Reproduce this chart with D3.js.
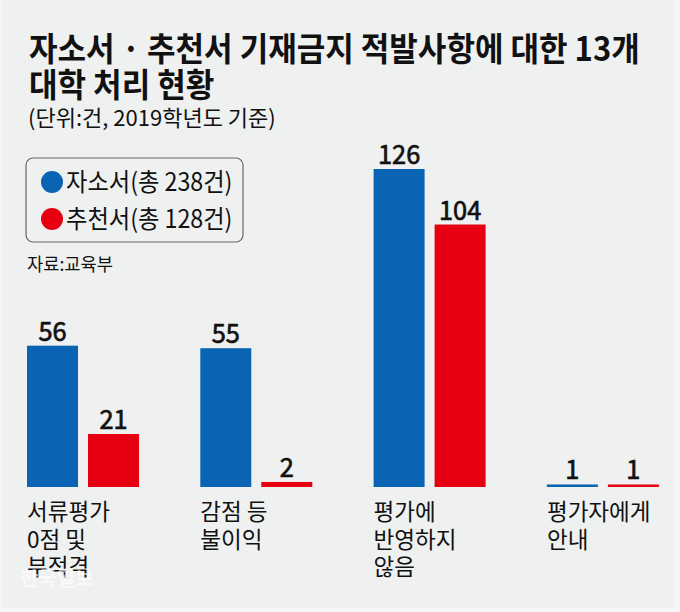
<!DOCTYPE html>
<html>
<head>
<meta charset="utf-8">
<script src="https://cdn.jsdelivr.net/npm/d3@7"></script>
<style>
  body { margin: 0; background: #f5f6f6; }
  svg text { font-family: "Noto Sans CJK KR", "Noto Sans", sans-serif; fill: #111; }
</style>
</head>
<body>
<div id="chart"></div>
<script>
// data
var categories = [
  ["서류평가", "0점 및", "부적격"],
  ["감점 등", "불이익"],
  ["평가에", "반영하지", "않음"],
  ["평가자에게", "안내"]
];
var seriesNames = ["자소서(총 238건)", "추천서(총 128건)"];
var selfIntro = [56, 55, 126, 1];      // 자소서
var recommend = [21, 2, 104, 1];       // 추천서
var colors = ["#0a64b4", "#e60012"];

var svgWidth = 680;
var svgHeight = 612;

var svg = d3.select("#chart")
  .append("svg")
  .attr("width", svgWidth)
  .attr("height", svgHeight);

// panel background
svg.append("rect")
  .attr("x", 2).attr("y", 0)
  .attr("width", 672).attr("height", 608)
  .attr("fill", "#eff0f0");

// condensed text helper (newspaper font is narrow)
function label(g, str, x, y, size, weight, sx, anchor) {
  return g.append("text")
    .attr("transform", `translate(${x},${y}) scale(${sx},1)`)
    .attr("text-anchor", anchor || "start")
    .style("font-size", size + "px")
    .style("font-weight", weight)
    .text(str);
}

// title
label(svg, "자소서 · 추천서 기재금지 적발사항에 대한 13개", 29, 61, 33, 700, 0.94);
label(svg, "대학 처리 현황", 29, 97, 33, 700, 0.94);
label(svg, "(단위:건, 2019학년도 기준)", 28, 126, 22, 400, 1.0);

// legend
var legend = svg.append("g");
legend.append("rect")
  .attr("x", 26).attr("y", 158)
  .attr("width", 217).attr("height", 84)
  .attr("rx", 7)
  .attr("fill", "none")
  .attr("stroke", "#666")
  .attr("stroke-width", 1.2);
seriesNames.forEach(function(name, i) {
  legend.append("circle")
    .attr("cx", 52).attr("cy", 182 + i * 37)
    .attr("r", 11)
    .attr("fill", colors[i]);
  label(legend, name, 66, 191 + i * 37, 25, 400, 0.93);
});
label(svg, "자료:교육부", 27, 271, 18, 400, 0.98);

// scales
var baseline = 487;
var yScale = d3.scaleLinear()
  .domain([0, 126])
  .range([baseline, 169]);

var xScale = d3.scaleBand()
  .domain(d3.range(categories.length))
  .range([27, 27 + 4 * 173.3]);

var xInner = d3.scaleBand()
  .domain([0, 1])
  .range([0, 112])
  .paddingInner(0.164);

var rows = [];
selfIntro.forEach(function(v, i) {
  rows.push({ cat: i, s: 0, value: v });
  rows.push({ cat: i, s: 1, value: recommend[i] });
});

var chartGroup = svg.append("g");

chartGroup.selectAll("rect.bar")
  .data(rows)
  .enter()
  .append("rect")
  .attr("class", "bar")
  .attr("x", d => xScale(d.cat) + xInner(d.s))
  .attr("y", d => yScale(d.value))
  .attr("width", xInner.bandwidth())
  .attr("height", d => baseline - yScale(d.value))
  .attr("fill", d => colors[d.s]);

// value labels, a touch heavier than regular
rows.forEach(function(d) {
  label(chartGroup, d.value, xScale(d.cat) + xInner(d.s) + xInner.bandwidth() / 2,
    yScale(d.value) - 5, 27, 400, 0.94, "middle")
    .style("stroke", "#111")
    .style("stroke-width", 0.7);
});

// category labels
categories.forEach(function(lines, i) {
  lines.forEach(function(line, j) {
    label(chartGroup, line, xScale(i), 520 + j * 27.5, 23, 400, 0.98);
  });
});

// watermark
label(svg, "한국일보", 20, 586, 20, 700, 1)
  .style("fill", "#ffffff")
  .style("opacity", 0.6);
</script>
</body>
</html>
